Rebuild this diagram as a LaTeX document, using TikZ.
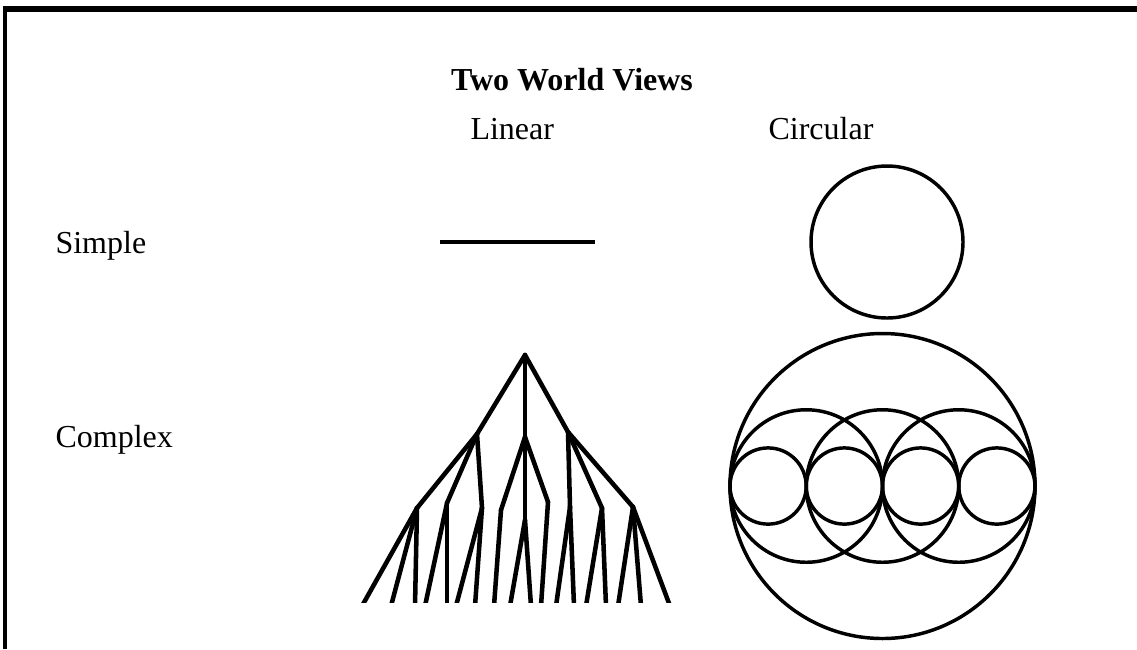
\documentclass[tikz,border=0pt]{standalone}
\usepackage{fontspec}
\setmainfont{Liberation Serif}
\begin{document}
\begin{tikzpicture}[x=0.375pt,y=-0.375pt,
  font=\fontsize{12}{14}\selectfont,
  stroke/.style={line width=1.7pt,line cap=round,line join=round},
  ring/.style={line width=1.3pt},
  label/.style={anchor=base west,inner sep=0pt}]
  \useasboundingbox (0,0) rectangle (1137,649);
  % frame, open on the right and at the bottom
  \draw[line width=1.9pt] (3,9) -- (1137,9);
  \draw[line width=1.4pt] (5,9) -- (5,649);
  \node[label,anchor=base,font=\fontsize{12}{14}\selectfont\bfseries] (title) at (572,90) {Two World Views};
  \node[label] (linear) at (470,139) {Linear};
  \node[label] (circular) at (768,139) {Circular};
  \node[label] (simple) at (55,253) {Simple};
  \node[label] (complex) at (55,447) {Complex};
  % simple: a line and a circle
  \coordinate (s1) at (440,242);
  \coordinate (s2) at (595,242);
  \draw[line width=1.5pt] (s1) -- (s2);
  \draw[ring] (887,242) circle[radius=76];
  % complex linear: a branching tree, cut off at the bottom
  \coordinate (root) at (525,355);
  \coordinate (A) at (477,434);
  \coordinate (M) at (525,437);
  \coordinate (R) at (568,432);
  \coordinate (LL) at (417,508);
  \coordinate (L2) at (447,503);
  \coordinate (L3) at (482,508);
  \coordinate (M1) at (501,510);
  \coordinate (M2) at (525,520);
  \coordinate (M3) at (548,502);
  \coordinate (R1) at (570,507);
  \coordinate (R2) at (602,508);
  \coordinate (RR) at (633,507);
  \foreach \n/\x in {1/362,2/391,3/415,4/425,5/447,6/456,7/475,8/494,9/510,
                     10/531,11/541,12/556,13/574,14/586,15/606,16/618,17/641,18/670}
    \coordinate (l\n) at (\x,606);
  \begin{scope}
    \clip (300,300) rectangle (700,602);
    \foreach \a/\b in {root/A,root/M,root/R,A/LL,A/L2,A/L3,M/M1,M/M2,M/M3,
                       R/R1,R/R2,R/RR,LL/l1,LL/l2,LL/l3,L2/l4,L2/l5,L3/l6,L3/l7,
                       M1/l8,M2/l9,M2/l10,M3/l11,R1/l12,R1/l13,R2/l14,R2/l15,
                       RR/l16,RR/l17,RR/l18}
      \draw[stroke] (\a) -- (\b);
  \end{scope}
  % complex circular: circles within circles
  \draw[ring] (882.5,486) circle[radius=152.5];
  \foreach \i in {0,1,2}
    \draw[ring] (806.25+76.25*\i,486) circle[radius=76.25];
  \foreach \i in {0,...,3}
    \draw[ring] (768.1+76.25*\i,486) circle[radius=38.1];
\end{tikzpicture}
\end{document}
